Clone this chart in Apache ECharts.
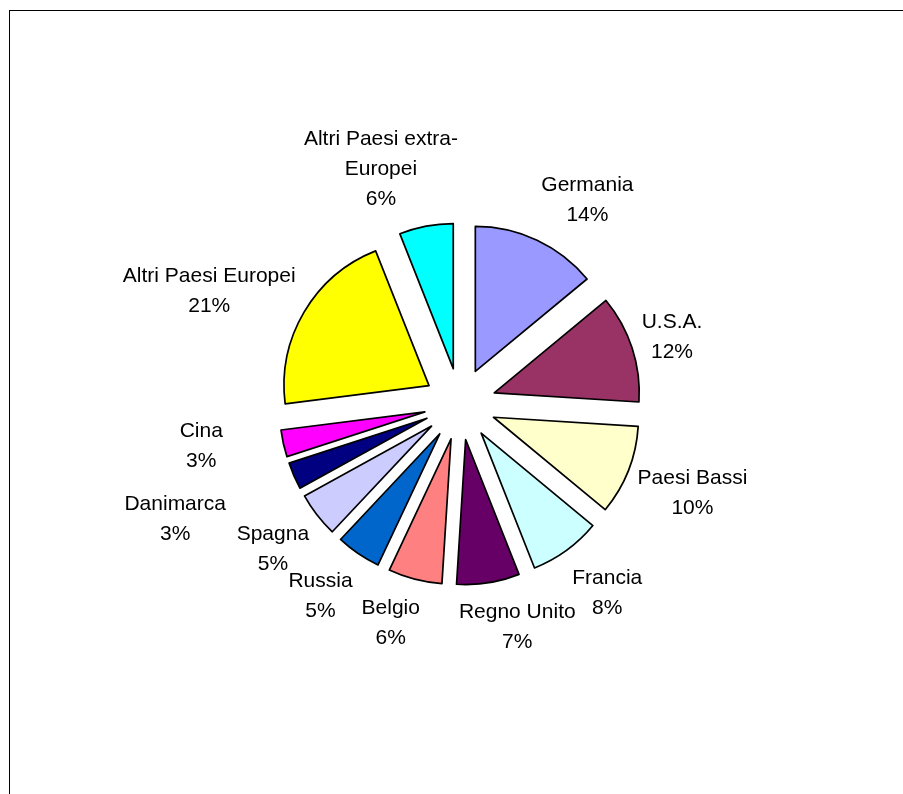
<!DOCTYPE html>
<html>
<head>
<meta charset="utf-8">
<script src="https://cdn.jsdelivr.net/npm/echarts@6/dist/echarts.min.js"></script>
<style>
html,body{margin:0;padding:0;background:#fff;overflow:hidden;width:903px;height:794px;}
#frame{position:absolute;left:9px;top:10px;width:1000px;height:1000px;border-left:1.5px solid #000;border-top:1.5px solid #000;}
#chart{position:absolute;left:0;top:0;width:903px;height:794px;}
</style>
</head>
<body>
<div id="frame"></div>
<div id="chart"></div>
<script>
// ---- data ----
const categories = ['Germania', 'U.S.A.', 'Paesi Bassi', 'Francia', 'Regno Unito', 'Belgio',
  'Russia', 'Spagna', 'Danimarca', 'Cina', 'Altri Paesi Europei', 'Altri Paesi extra-Europei'];
const values = [14, 12, 10, 8, 7, 6, 5, 5, 3, 3, 21, 6];
const colors = ['#9999FF', '#993366', '#FFFFCC', '#CCFFFF', '#660066', '#FF8080',
  '#0066CC', '#CCCCFF', '#000080', '#FF00FF', '#FFFF00', '#00FFFF'];

// ---- layout / style ----
const CX = 460, CY = 404, RADIUS = 145, EXPLODE = 36;
const DEFAULT_GAP = 10;
// labels pushed further out to avoid collisions (as in the original)
const labelNudge = { 'Cina': { gap: 52, dy: -24 }, 'Danimarca': { gap: 64, dy: -6 } };

const total = values.reduce((a, b) => a + b, 0);
const midFrac = [];
let acc = 0;
values.forEach(v => { midFrac.push((acc + v / 2) / total); acc += v; });

function clamp(v, lo, hi) { return Math.max(lo, Math.min(hi, v)); }

const chart = echarts.init(document.getElementById('chart'), null, { renderer: 'canvas' });

const borderStyle = { borderColor: '#000', borderWidth: 1.7 };
const labelStyle = {
  fontFamily: 'Liberation Sans, Arial, sans-serif',
  fontSize: 21,
  lineHeight: 30,
  color: '#000'
};

const commonPie = {
  type: 'pie',
  center: [CX, CY],
  radius: RADIUS,
  startAngle: 90,
  clockwise: true,
  percentPrecision: 0,
  avoidLabelOverlap: false,
  emphasis: { disabled: true }
};

chart.setOption({
  animation: false,
  backgroundColor: 'transparent',
  series: [
    // exploded slices
    Object.assign({}, commonPie, {
      selectedMode: 'multiple',
      selectedOffset: EXPLODE,
      itemStyle: borderStyle,
      select: { itemStyle: borderStyle },
      label: { show: false },
      labelLine: { show: false },
      data: categories.map((c, i) => ({
        name: c,
        value: values[i],
        selected: true,
        itemStyle: { color: colors[i] }
      }))
    }),
    // label carrier (invisible sectors, same data)
    Object.assign({}, commonPie, {
      silent: true,
      selectedMode: false,
      itemStyle: { color: 'rgba(0,0,0,0)', borderWidth: 0 },
      label: Object.assign({
        show: true,
        position: 'outside',
        overflow: 'none',
        formatter: function (p) {
          const name = p.name.replace('extra-', 'extra-\n');
          return name + '\n' + Math.round(p.percent) + '%';
        }
      }, labelStyle),
      labelLine: { show: false },
      labelLayout: function (p) {
        const i = p.dataIndex;
        const theta = midFrac[i] * 2 * Math.PI;
        const ux = Math.sin(theta), uy = -Math.cos(theta);
        const nudge = labelNudge[categories[i]] || {};
        const d = EXPLODE + RADIUS + DEFAULT_GAP + (nudge.gap || 0);
        const px = CX + ux * d, py = CY + uy * d;
        const w = p.labelRect.width, h = p.labelRect.height;
        const fx = clamp(3 * ux, -1, 1);
        const fy = clamp(1.3 * uy + 0.15, -1.05, 1.15);
        return {
          x: px + fx * w / 2,
          y: py + fy * h / 2 + (nudge.dy || 0),
          align: 'center',
          verticalAlign: 'middle'
        };
      },
      data: categories.map((c, i) => ({ name: c, value: values[i] }))
    })
  ]
});
</script>
</body>
</html>
